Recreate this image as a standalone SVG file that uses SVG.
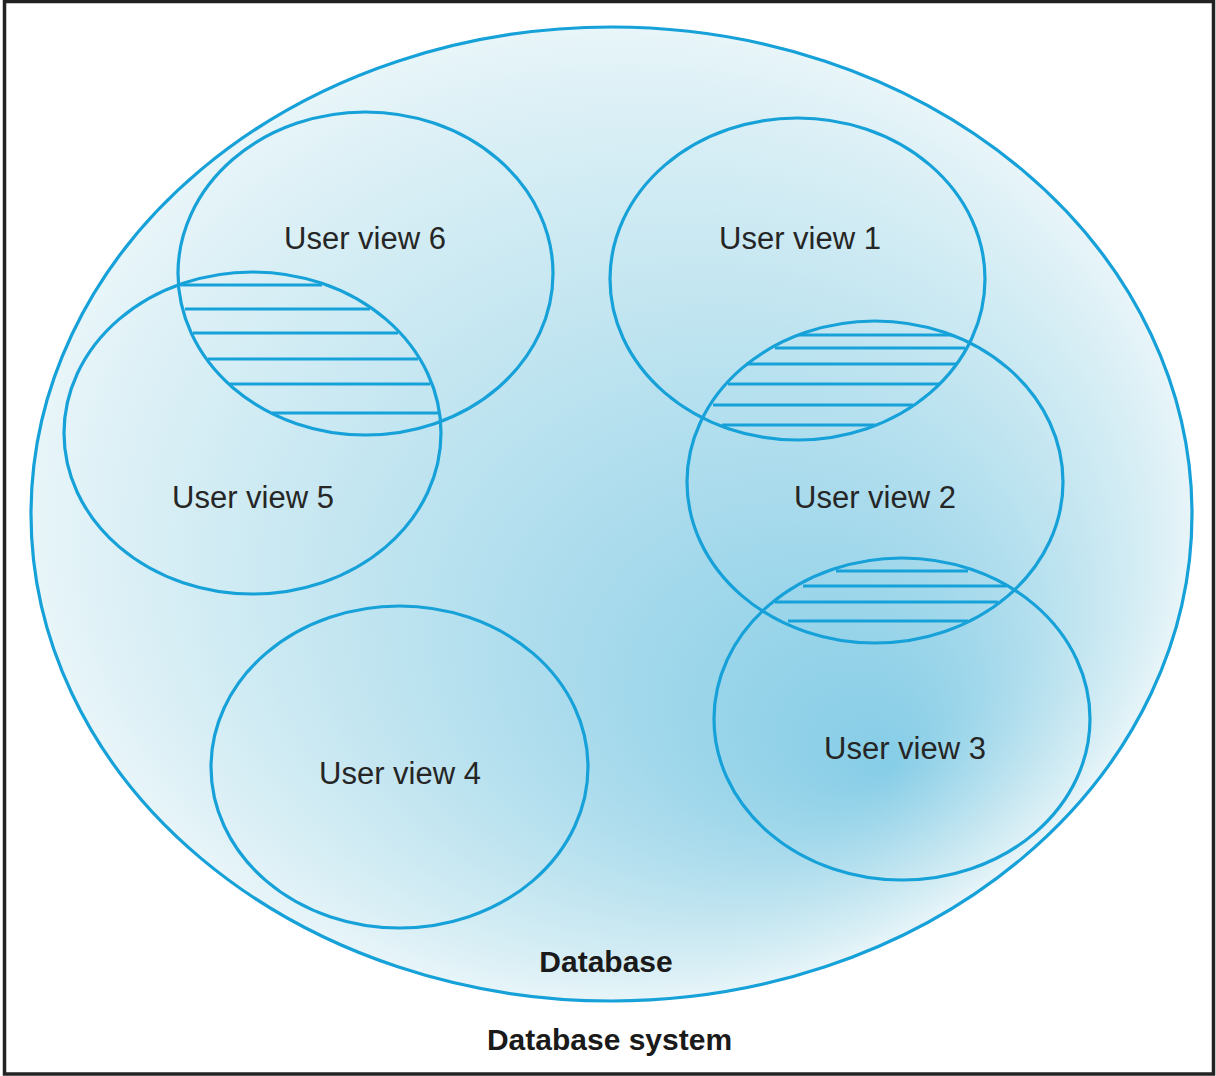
<svg xmlns="http://www.w3.org/2000/svg" width="1216" height="1076" viewBox="0 0 1216 1076">
<defs>
<radialGradient id="dbfill" cx="0.5" cy="0.5" r="0.5" fx="0.74" fy="0.76">
<stop offset="0" stop-color="#86cde7"/>
<stop offset="0.3" stop-color="#a2d8eb"/>
<stop offset="0.65" stop-color="#c4e6f1"/>
<stop offset="0.9" stop-color="#dcf0f6"/>
<stop offset="1" stop-color="#e8f5f9"/>
</radialGradient>
<style>
.v{fill:none;stroke:#16a1d9;stroke-width:3.2}
.h{stroke:#16a1d9;stroke-width:3.2;fill:none}
.t{font-family:"Liberation Sans",Arial,sans-serif;font-size:31px;fill:#262626;text-anchor:middle}
.b{font-family:"Liberation Sans",Arial,sans-serif;font-size:30px;font-weight:bold;fill:#1a1a1a;text-anchor:middle}
</style>
</defs>
<rect x="0" y="0" width="1216" height="1076" fill="#ffffff"/>
<rect x="4.5" y="1.5" width="1209" height="1072.5" fill="none" stroke="#222" stroke-width="3.5"/>
<g id="database">
<ellipse cx="611.5" cy="514" rx="580.5" ry="487" fill="url(#dbfill)" stroke="#16a1d9" stroke-width="3.2"/>
<text class="b" x="606" y="972">Database</text>
</g>
<g id="connectors">
<g id="overlap-5-6">
<line class="h" x1="181" y1="285" x2="322" y2="285"/>
<line class="h" x1="185" y1="309" x2="370" y2="309"/>
<line class="h" x1="193" y1="333" x2="398" y2="333"/>
<line class="h" x1="208" y1="359" x2="418" y2="359"/>
<line class="h" x1="230" y1="384" x2="430" y2="384"/>
<line class="h" x1="272" y1="413" x2="438" y2="413"/>
</g>
<g id="overlap-1-2">
<line class="h" x1="799" y1="335" x2="952" y2="335"/>
<line class="h" x1="775" y1="348" x2="965" y2="348"/>
<line class="h" x1="746" y1="364" x2="957" y2="364"/>
<line class="h" x1="728" y1="384" x2="940" y2="384"/>
<line class="h" x1="713" y1="405" x2="913" y2="405"/>
<line class="h" x1="722" y1="425" x2="875" y2="425"/>
</g>
<g id="overlap-2-3">
<line class="h" x1="836" y1="571" x2="968" y2="571"/>
<line class="h" x1="803" y1="586" x2="1007" y2="586"/>
<line class="h" x1="775" y1="602" x2="998" y2="602"/>
<line class="h" x1="788" y1="621" x2="968" y2="621"/>
</g>
</g>
<g id="uv6"><ellipse class="v" cx="365.5" cy="273.5" rx="187.5" ry="161.5"/><text class="t" x="365" y="249">User view 6</text></g>
<g id="uv5"><ellipse class="v" cx="252.5" cy="433" rx="188.5" ry="161"/><text class="t" x="253" y="508">User view 5</text></g>
<g id="uv1"><ellipse class="v" cx="797.5" cy="279" rx="187.5" ry="161"/><text class="t" x="800" y="249">User view 1</text></g>
<g id="uv2"><ellipse class="v" cx="875" cy="482" rx="188" ry="161"/><text class="t" x="875" y="508">User view 2</text></g>
<g id="uv3"><ellipse class="v" cx="902" cy="719" rx="188" ry="161"/><text class="t" x="905" y="759">User view 3</text></g>
<g id="uv4"><ellipse class="v" cx="399.5" cy="767" rx="188.5" ry="161"/><text class="t" x="400" y="784">User view 4</text></g>
<g id="system"><text class="b" x="609.5" y="1050">Database system</text></g>
</svg>
